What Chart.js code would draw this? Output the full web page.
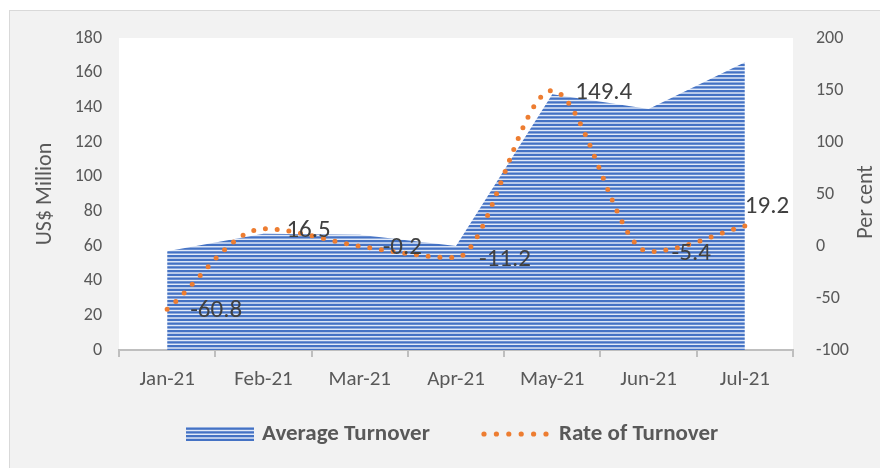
<!DOCTYPE html>
<html>
<head>
<meta charset="utf-8">
<script src="https://cdn.jsdelivr.net/npm/chart.js@4/dist/chart.umd.min.js"></script>
<style>
  html, body { margin: 0; padding: 0; background: #ffffff; overflow: hidden; }
  #frame { position: absolute; left: 9px; top: 10px; width: 900px; height: 480px;
           background: #f2f2f2; border: 1px solid #d9d9d9; box-sizing: border-box; }
  #wrap { position: absolute; left: 0; top: 0; width: 880px; height: 468px; }
</style>
</head>
<body>
<div id="frame"></div>
<div id="wrap"><canvas id="c" width="880" height="468"></canvas></div>
<script>
// ---- data ----
const categories = ['Jan-21', 'Feb-21', 'Mar-21', 'Apr-21', 'May-21', 'Jun-21', 'Jul-21'];
const averageTurnover = [57, 67, 66.5, 60, 147.5, 139, 166];
const rateOfTurnover = [-60.8, 16.5, -0.2, -11.2, 149.4, -5.4, 19.2];
const leftTickValues = [0, 20, 40, 60, 80, 100, 120, 140, 160, 180];
const rightTickValues = [-100, -50, 0, 50, 100, 150, 200];
const seriesNames = ['Average Turnover', 'Rate of Turnover'];
const axisTitles = ['US$ Million', 'Per cent'];

// ---- styles ----
const FONT = "Carlito, Calibri, Lato, 'Open Sans', sans-serif";
const BLUE = [68, 114, 196];
const LIGHT = [226, 234, 248];
const ORANGE = '#ed7d31';
const TEXT = '#595959';

function makeStripePattern(ctx) {
  const c = document.createElement('canvas');
  c.width = 8; c.height = 15;
  const g = c.getContext('2d');
  const period = 3.75, blueLen = 2.3;
  for (let r = 0; r < 15; r++) {
    let cov = 0;
    for (let s = 0; s < 20; s++) {
      const t = r + (s + 0.5) / 20;
      if ((t % period) < blueLen) cov += 1;
    }
    cov /= 20;
    const col = BLUE.map((b, i) => Math.round(b * cov + LIGHT[i] * (1 - cov)));
    g.fillStyle = `rgb(${col[0]},${col[1]},${col[2]})`;
    g.fillRect(0, r, 8, 1);
  }
  return ctx.createPattern(c, 'repeat');
}

const canvas = document.getElementById('c');
const ctx = canvas.getContext('2d');
const stripes = makeStripePattern(ctx);

const plotBg = {
  id: 'plotBg',
  beforeDraw(chart) {
    const { ctx, chartArea: a } = chart;
    ctx.save();
    ctx.fillStyle = '#ffffff';
    ctx.fillRect(a.left, a.top, a.right - a.left, a.bottom - a.top);
    ctx.restore();
  }
};

const rightTitle = {
  id: 'rightTitle',
  afterDraw(chart) {
    const { ctx, chartArea: a } = chart;
    ctx.save();
    ctx.translate(866, (a.top + a.bottom) / 2 + 8);
    ctx.rotate(-Math.PI / 2);
    ctx.font = `22px ${FONT}`;
    ctx.fillStyle = TEXT;
    ctx.textAlign = 'center';
    ctx.textBaseline = 'middle';
    ctx.fillText(axisTitles[1], 0, 0);
    ctx.restore();
  }
};

const valueLabels = {
  id: 'valueLabels',
  afterDatasetsDraw(chart) {
    const { ctx, chartArea: a } = chart;
    const idx = chart.data.datasets.findIndex(d => d.yAxisID === 'y1');
    const meta = chart.getDatasetMeta(idx);
    const data = chart.data.datasets[idx].data;
    ctx.save();
    ctx.font = `25px ${FONT}`;
    ctx.fillStyle = '#404040';
    ctx.textAlign = 'left';
    ctx.textBaseline = 'middle';
    meta.data.forEach((pt, i) => {
      const txt = String(data[i]);
      const w = ctx.measureText(txt).width;
      let x = pt.x + 23, y = pt.y + 2;
      if (x + w > a.right + 4) { x = pt.x; y = pt.y - 19; }
      ctx.fillText(txt, x, y);
    });
    ctx.restore();
  }
};

const customLegend = {
  id: 'customLegend',
  afterDraw(chart) {
    const { ctx } = chart;
    const ds = chart.data.datasets;
    const yc = 434;
    ctx.save();
    ctx.font = `bold 23px ${FONT}`;
    ctx.textBaseline = 'middle';
    ctx.textAlign = 'left';
    ctx.fillStyle = stripes;
    ctx.fillRect(186, yc - 7, 68, 14);
    ctx.fillStyle = TEXT;
    ctx.fillText(ds[0].label, 262, yc);
    ctx.fillStyle = ORANGE;
    for (let k = 0; k < 6; k++) {
      ctx.beginPath();
      ctx.arc(484 + k * 12.4, yc, 2.6, 0, Math.PI * 2);
      ctx.fill();
    }
    ctx.fillStyle = TEXT;
    ctx.fillText(ds[1].label, 559, yc);
    ctx.restore();
  }
};

new Chart(ctx, {
  type: 'line',
  data: {
    labels: categories,
    datasets: [
      {
        label: seriesNames[0],
        data: averageTurnover,
        yAxisID: 'y',
        fill: 'origin',
        backgroundColor: stripes,
        borderWidth: 0,
        borderColor: 'rgba(0,0,0,0)',
        pointRadius: 0,
        tension: 0,
        order: 2
      },
      {
        label: seriesNames[1],
        data: rateOfTurnover,
        yAxisID: 'y1',
        fill: false,
        borderColor: ORANGE,
        borderWidth: 5,
        borderCapStyle: 'round',
        borderDash: [0, 11.8],
        pointRadius: 0,
        cubicInterpolationMode: 'monotone',
        order: 1
      }
    ]
  },
  options: {
    responsive: false,
    animation: false,
    devicePixelRatio: 1,
    layout: { padding: { left: 0, right: 0, top: 38, bottom: 68 } },
    plugins: {
      legend: { display: false },
      tooltip: { enabled: false },
      title: { display: false }
    },
    scales: {
      x: {
        type: 'category',
        offset: true,
        grid: { display: true, offset: true, drawOnChartArea: false, drawTicks: true,
                tickLength: 7, color: '#bfbfbf', lineWidth: 2 },
        border: { display: true, color: '#bfbfbf', width: 2 },
        ticks: { color: TEXT, font: { family: FONT, size: 21 }, padding: 10, maxRotation: 0 },
        afterFit(s) { s.height = 50; }
      },
      y: {
        position: 'left',
        min: 0, max: 180,
        grid: { display: false, drawTicks: false },
        border: { display: false },
        ticks: { color: TEXT, font: { family: FONT, size: 18 }, padding: 17 },
        afterBuildTicks(s) { s.ticks = leftTickValues.map(v => ({ value: v })); },
        title: { display: true, text: axisTitles[0], color: TEXT,
                 font: { family: FONT, size: 22 }, padding: { top: 32, bottom: 0 } },
        afterFit(s) { s.width = 119; }
      },
      y1: {
        position: 'right',
        min: -100, max: 200,
        grid: { display: false, drawTicks: false },
        border: { display: false },
        ticks: { color: TEXT, font: { family: FONT, size: 18 }, padding: 23 },
        afterBuildTicks(s) { s.ticks = rightTickValues.map(v => ({ value: v })); },
        title: { display: false },
        afterFit(s) { s.width = 87; }
      }
    }
  },
  plugins: [plotBg, valueLabels, customLegend, rightTitle]
});
</script>
</body>
</html>
